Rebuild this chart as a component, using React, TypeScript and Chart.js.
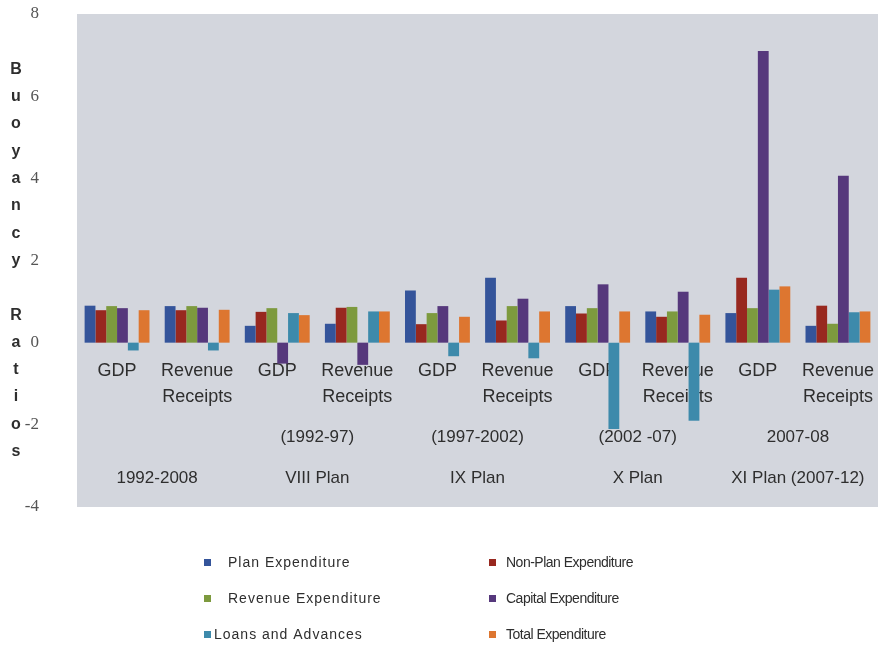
import React, { useEffect, useRef } from "react";
import { Chart, registerables } from "chart.js";

Chart.register(...registerables);

const categories: string[][] = [
  ["GDP"], ["Revenue", "Receipts"],
  ["GDP"], ["Revenue", "Receipts"],
  ["GDP"], ["Revenue", "Receipts"],
  ["GDP"], ["Revenue", "Receipts"],
  ["GDP"], ["Revenue", "Receipts"],
];
const periodRow1 = ["", "(1992-97)", "(1997-2002)", "(2002 -07)", "2007-08"];
const periodRow2 = ["1992-2008", "VIII Plan", "IX Plan", "X Plan", "XI Plan (2007-12)"];

const seriesNames = [
  "Plan Expenditure",
  "Non-Plan Expenditure",
  "Revenue Expenditure",
  "Capital Expenditure",
  "Loans and Advances",
  "Total Expenditure",
];
const planExp = [0.9, 0.89, 0.41, 0.46, 1.27, 1.58, 0.89, 0.76, 0.72, 0.41];
const nonPlanExp = [0.79, 0.79, 0.75, 0.85, 0.45, 0.54, 0.71, 0.63, 1.58, 0.9];
const revenueExp = [0.89, 0.89, 0.84, 0.87, 0.72, 0.89, 0.84, 0.76, 0.84, 0.46];
const capitalExp = [0.84, 0.85, -0.51, -0.54, 0.89, 1.07, 1.42, 1.24, 7.1, 4.06];
const loansAdv = [-0.19, -0.19, 0.72, 0.76, -0.33, -0.38, -2.1, -1.9, 1.29, 0.74];
const totalExp = [0.79, 0.8, 0.67, 0.76, 0.63, 0.76, 0.76, 0.68, 1.37, 0.76];

const yTicks = [8, 6, 4, 2, 0, -2, -4];
const yTitle = "Buoyancy Ratios";

const colors = ["#34549a", "#98281f", "#7d9a3e", "#56387c", "#3d8aab", "#dd7630"];

const labelPlugin = {
  id: "customLabels",
  beforeDatasetsDraw(chart: any) {
    const { ctx, chartArea, scales } = chart;
    const xs = scales.x;
    const ys = scales.y;
    ctx.save();
    ctx.fillStyle = "#d3d6dd";
    ctx.fillRect(chartArea.left, chartArea.top, chartArea.right - chartArea.left, chartArea.bottom - chartArea.top);
    const y0 = ys.getPixelForValue(0);
    ctx.fillStyle = "#2e2e2e";
    ctx.textAlign = "center";
    ctx.textBaseline = "middle";
    ctx.font = "18px 'Liberation Sans', Arial, sans-serif";
    categories.forEach((lines, i) => {
      const x = xs.getPixelForValue(i);
      lines.forEach((t, j) => ctx.fillText(t, x, y0 + 28 + j * 26));
    });
    ctx.font = "17px 'Liberation Sans', Arial, sans-serif";
    for (let p = 0; p < 5; p++) {
      const x = (xs.getPixelForValue(2 * p) + xs.getPixelForValue(2 * p + 1)) / 2;
      if (periodRow1[p]) ctx.fillText(periodRow1[p], x, y0 + 95);
      ctx.fillText(periodRow2[p], x, y0 + 136);
    }
    ctx.restore();
  },
  afterDraw(chart: any) {
    const { ctx, chartArea } = chart;
    ctx.save();
    ctx.fillStyle = "#2e2e2e";
    ctx.font = "bold 16px 'Liberation Sans', Arial, sans-serif";
    ctx.textAlign = "center";
    ctx.textBaseline = "middle";
    const chars = yTitle.split("");
    const lh = 27.3;
    const midY = (chartArea.top + chartArea.bottom) / 2;
    const startY = midY - ((chars.length - 1) * lh) / 2;
    chars.forEach((c, i) => {
      if (c !== " ") ctx.fillText(c, 16, startY + i * lh);
    });
    ctx.textAlign = "left";
    const colX = [204, 489];
    const rowY = [563, 599, 635];
    chart.data.datasets.forEach((ds: any, i: number) => {
      const col = i % 2;
      const cx = colX[col];
      const cy = rowY[Math.floor(i / 2)];
      ctx.fillStyle = ds.backgroundColor;
      ctx.fillRect(cx, cy - 4, 7, 7);
      ctx.fillStyle = "#2e2e2e";
      let dx = 17;
      if (col === 0) {
        ctx.font = "14px 'Liberation Sans', Arial, sans-serif";
        (ctx as any).letterSpacing = "1px";
        dx = i === 4 ? 10 : 24;
      } else {
        ctx.font = "14px 'Liberation Sans', Arial, sans-serif";
        (ctx as any).letterSpacing = "-0.5px";
      }
      ctx.fillText(ds.label, cx + dx, cy);
    });
    (ctx as any).letterSpacing = "0px";
    ctx.restore();
  },
};

export default function App() {
  const canvasRef = useRef<HTMLCanvasElement | null>(null);
  useEffect(() => {
    if (!canvasRef.current) return;
    const series = [planExp, nonPlanExp, revenueExp, capitalExp, loansAdv, totalExp];
    const chart = new Chart(canvasRef.current, {
      type: "bar",
      data: {
        labels: categories.map((c) => c.join(" ")),
        datasets: series.map((d, i) => ({
          label: seriesNames[i],
          data: d,
          backgroundColor: colors[i],
          borderWidth: 0,
          barPercentage: 1,
          categoryPercentage: 0.81,
        })),
      },
      options: {
        animation: false,
        responsive: true,
        maintainAspectRatio: false,
        layout: { padding: { left: 0, top: 14, right: 3, bottom: 141 } },
        plugins: { legend: { display: false }, tooltip: { enabled: false } },
        scales: {
          x: { display: false },
          y: {
            min: -4,
            max: 8,
            afterFit(scale: any) {
              scale.width = 77;
              scale.paddingTop = 0;
              scale.paddingBottom = 0;
            },
            afterBuildTicks(scale: any) {
              scale.ticks = yTicks.map((v) => ({ value: v }));
            },
            grid: { display: false },
            border: { display: false },
            ticks: {
              padding: 30,
              color: "#555",
              font: { family: "'Liberation Serif', 'Times New Roman', serif", size: 17 },
            },
          },
        },
      },
      plugins: [labelPlugin],
    });
    return () => chart.destroy();
  }, []);
  return (
    <div style={{ position: "fixed", left: 0, top: 0, width: 881, height: 648, background: "#fff" }}>
      <canvas ref={canvasRef} />
    </div>
  );
}
